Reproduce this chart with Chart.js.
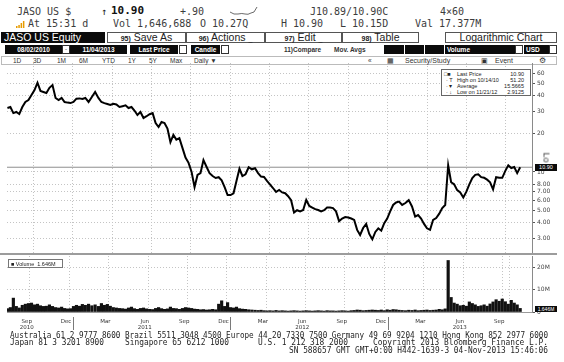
<!DOCTYPE html>
<html lang="en">
<head>
<meta charset="UTF-8">
<title>JASO US Equity</title>
<script src="https://cdn.jsdelivr.net/npm/chart.js"></script>
<style>
  html, body { margin: 0; padding: 0; background: #fff; }
  body { position: relative; width: 564px; height: 362px; overflow: hidden; font-family: "Liberation Sans", Arial, sans-serif; color: #222; }
  .a { position: absolute; white-space: pre; }
  .top { font-family: "DejaVu Sans Mono", monospace; font-size: 10px; line-height: 12px; color: #3c3c3c; }
  .btn { position: absolute; top: 32px; height: 11px; box-sizing: border-box; border: 1px solid #555; font-size: 10.5px; line-height: 9px; text-align: center; color: #222; white-space: pre; }
  .btn b { font-size: 7px; }
  .blk { position: absolute; top: 45px; height: 9px; background: #0b0b0b; color: #fff; font-size: 6.5px; line-height: 9px; text-align: center; font-weight: bold; white-space: pre; }
  .sq { position: absolute; top: 45px; height: 9px; box-sizing: border-box; border: 1px solid #333; background: #fff; }
  .r5 { position: absolute; top: 57px; font-size: 6.5px; line-height: 8px; color: #333; white-space: pre; }
  canvas { position: absolute; left: 0; }
  .foot { position: absolute; font-family: "DejaVu Sans Mono", monospace; font-size: 8px; line-height: 8px; color: #1e1e1e; white-space: pre; transform-origin: 0 0; }
  .leg { position: absolute; font-size: 5.5px; line-height: 6px; color: #222; white-space: pre; }
</style>
</head>
<body>
  <!-- row 1 -->
  <div class="a top" style="left:17px;top:6px">JASO US $</div>
  <div class="a top" style="left:101px;top:6px;color:#222">&#8593;</div>
  <div class="a top" style="left:111px;top:5px;font-size:11px;font-weight:bold;color:#111">10.90</div>
  <div class="a top" style="left:180px;top:6px">+.90</div>
  <svg class="a" style="left:229px;top:6px" width="30" height="12">
    <path d="M1 6 Q5 9 9 8 T16 8 T22 7 L25 6 L28 1" fill="none" stroke="#444" stroke-width="0.8"/>
  </svg>
  <div class="a top" style="left:310px;top:6px">J10.89/10.90C</div>
  <div class="a top" style="left:440px;top:6px">4&#215;60</div>

  <!-- row 2 -->
  <svg class="a" style="left:16px;top:21px" width="10" height="7">
    <rect x="0" y="5" width="1.5" height="2" fill="#e79b00"/>
    <rect x="2.3" y="4" width="1.5" height="3" fill="#e79b00"/>
    <rect x="4.6" y="2" width="1.5" height="5" fill="#e79b00"/>
    <rect x="6.9" y="0" width="1.5" height="7" fill="#e79b00"/>
  </svg>
  <div class="a top" style="left:28px;top:17.5px">At 15:31 d</div>
  <div class="a top" style="left:113px;top:17.5px">Vol 1,646,688</div>
  <div class="a top" style="left:200px;top:17.5px">O 10.27Q</div>
  <div class="a top" style="left:281px;top:17.5px">H 10.90</div>
  <div class="a top" style="left:340px;top:17.5px">L 10.15D</div>
  <div class="a top" style="left:415px;top:17.5px">Val 17.377M</div>

  <!-- row 3 -->
  <div class="a" style="left:1px;top:32px;width:104px;height:11px;background:#0b0b0b;color:#fff;font-size:10.5px;line-height:11px;padding-left:3px;box-sizing:border-box">JASO US Equity</div>
  <div class="btn" style="left:107px;width:79px"><b>95)</b> Save As</div>
  <div class="btn" style="left:186px;width:79px"><b>96)</b> Actions <span style="font-size:7px">_</span></div>
  <div class="btn" style="left:265px;width:77px"><b>97)</b> Edit <span style="font-size:7px">_</span></div>
  <div class="btn" style="left:342px;width:77px"><b>98)</b> Table</div>
  <div class="btn" style="left:445px;width:112px">Logarithmic Chart</div>

  <!-- row 4 -->
  <div class="blk" style="left:5px;width:57px">08/02/2010</div>
  <div class="sq" style="left:62px;width:8px;font-size:6px;line-height:7px;text-align:center">-</div>
  <div class="blk" style="left:70px;width:57px">11/04/2013</div>
  <div class="blk" style="left:130px;width:48px">Last Price</div>
  <div class="sq" style="left:179px;width:8px"></div>
  <div class="blk" style="left:191px;width:29px">Candle</div>
  <div class="sq" style="left:221px;width:8px"></div>
  <div class="a" style="left:284px;top:45px;font-size:6.5px;line-height:9px;font-weight:bold;color:#333">11)Compare</div>
  <div class="a" style="left:334px;top:45px;font-size:6.5px;line-height:9px;font-weight:bold;color:#333">Mov. Avgs</div>
  <div class="blk" style="left:384px;width:20px"></div>
  <div class="blk" style="left:405px;width:19px"></div>
  <div class="blk" style="left:425px;width:19px"></div>
  <div class="blk" style="left:445px;width:70px;text-align:left;padding-left:2px;box-sizing:border-box">Volume</div>
  <div class="sq" style="left:515px;width:8px"></div>
  <div class="blk" style="left:524px;width:25px;text-align:left;padding-left:2px;box-sizing:border-box">USD</div>
  <div class="sq" style="left:549px;width:8px"></div>

  <!-- row 5 -->
  <div class="a" style="left:1px;top:56px;width:556px;height:9px;border:1px solid #bbb;box-sizing:border-box"></div>
  <div class="r5" style="left:13px">1D</div>
  <div class="r5" style="left:33px">3D</div>
  <div class="r5" style="left:57px">1M</div>
  <div class="r5" style="left:79px">6M</div>
  <div class="r5" style="left:102px">YTD</div>
  <div class="r5" style="left:128px">1Y</div>
  <div class="r5" style="left:149px">5Y</div>
  <div class="r5" style="left:170px">Max</div>
  <div class="r5" style="left:194px">Daily &#9660;</div>
  <div class="r5" style="left:368px">&#171;</div>
  <div class="r5" style="left:387px">&#9638;</div>
  <div class="r5" style="left:405px;font-size:7px">Security/Study</div>
  <div class="r5" style="left:481px">&#9635;</div>
  <div class="r5" style="left:495px;font-size:7px">Event</div>
  <div class="r5" style="left:539px;font-size:7.5px">&#9881;</div>

  <canvas id="priceChart" width="564" height="191" style="top:63px"></canvas>
  <canvas id="volumeChart" width="564" height="77" style="top:256px"></canvas>

  <!-- panel separator -->
  <div class="a" style="left:0;top:253px;width:557px;height:2px;background:#9c9c9c"></div>

  <!-- price legend -->
  <div class="a" style="left:441px;top:69px;width:90px;height:27px;border:1px solid #666;background:#fff;box-sizing:border-box"></div>
  <div class="leg" style="left:444px;top:70.5px">&#9633;&#9632;</div>
  <div class="leg" style="left:457px;top:70.5px">Last Price</div>
  <div class="leg" style="left:494px;top:70.5px;width:30px;text-align:right">10.90</div>
  <div class="leg" style="left:446px;top:76.5px">&#183; T</div>
  <div class="leg" style="left:457px;top:76.5px">High on 10/14/10</div>
  <div class="leg" style="left:494px;top:76.5px;width:30px;text-align:right">51.20</div>
  <div class="leg" style="left:446px;top:82.5px">&#183; &#9662;</div>
  <div class="leg" style="left:457px;top:82.5px">Average</div>
  <div class="leg" style="left:494px;top:82.5px;width:30px;text-align:right">15.5665</div>
  <div class="leg" style="left:446px;top:88.5px">&#183; &#8595;</div>
  <div class="leg" style="left:457px;top:88.5px">Low on 11/21/12</div>
  <div class="leg" style="left:494px;top:88.5px;width:30px;text-align:right">2.9125</div>

  <!-- right side markers -->
  <div class="a" style="left:541px;top:153px;font-size:9px;line-height:9px;color:#333;transform:rotate(90deg)">Lo</div>
  <div class="a" style="left:535px;top:164px;width:22px;height:6.5px;background:#0b0b0b;color:#fff;font-size:5.5px;line-height:6.5px;text-align:center">10.90</div>

  <!-- volume legend -->
  <div class="a" style="left:8px;top:259px;width:55px;height:9px;border:1px solid #777;background:#fff;box-sizing:border-box"></div>
  <div class="leg" style="left:11px;top:260.5px">&#9632; Volume  1.646M</div>
  <div class="a" style="left:535px;top:306px;width:22px;height:6px;background:#0b0b0b;color:#fff;font-size:5px;line-height:6px;text-align:center">1.646M</div>

  <!-- footer (each piece squeezed to the width it has in the screenshot) -->
  <div class="foot" data-w="538" style="left:10px;top:331.5px">Australia 61 2 9777 8600 Brazil 5511 3048 4500 Europe 44 20 7330 7500 Germany 49 69 9204 1210 Hong Kong 852 2977 6000</div>
  <div class="foot" data-w="94" style="left:10px;top:339px">Japan 81 3 3201 8900</div>
  <div class="foot" data-w="104" style="left:125px;top:339px">Singapore 65 6212 1000</div>
  <div class="foot" data-w="90" style="left:258px;top:339px">U.S. 1 212 318 2000</div>
  <div class="foot" data-w="175" style="left:373px;top:339px">Copyright 2013 Bloomberg Finance L.P.</div>
  <div class="foot" data-w="259" style="left:289px;top:346.5px">SN 588657 GMT GMT+0:00 H442-1639-3 04-Nov-2013 15:46:06</div>

<script>
  document.querySelectorAll('.foot').forEach(el => {
    const w = el.getBoundingClientRect().width;
    el.style.transform = 'scaleX(' + (Number(el.dataset.w) / w) + ')';
  });

  // weekly closes from 02 Aug 2010 to 04 Nov 2013
  const startDate = '2010-08-02';
  const closes = [
    31.9, 32.5, 29.1, 29.7, 28.6, 32.5, 35.6, 36.9, 40.4, 44.2,
    50.5, 43.5, 42.7, 41.9, 46.0, 48.4, 38.3, 36.9, 38.3, 35.6,
    35.2, 34.9, 35.6, 37.8, 38.0, 37.6, 38.3, 35.6, 39.0, 42.7,
    38.3, 35.6, 34.9, 34.3, 33.7, 34.5, 34.0, 32.5, 33.0, 33.5,
    31.9, 32.5, 30.5, 28.1, 29.7, 26.6, 27.5, 28.5, 29.1, 24.3,
    22.6, 24.8, 24.3, 22.0, 17.2, 19.6, 18.0, 18.5, 15.5, 13.0,
    11.8, 10.0, 7.6, 9.47, 9.8, 12.4, 11.0, 9.8, 9.3, 8.97,
    9.1, 8.6, 7.6, 6.59, 6.59, 6.8, 8.5, 10.6, 9.3, 9.6,
    10.9, 10.5, 10.7, 9.8, 9.2, 9.14, 8.5, 8.0, 7.48, 6.96,
    7.22, 6.9, 6.8, 6.45, 6.0, 4.8, 5.0, 4.9, 5.02, 6.02,
    5.4, 5.25, 5.1, 5.02, 4.9, 5.0, 5.25, 5.25, 5.2, 4.9,
    4.1, 4.3, 4.42, 4.38, 4.3, 4.19, 3.5, 3.19, 3.62, 3.9,
    3.25, 2.95, 3.37, 3.6, 3.45, 3.95, 4.3, 4.9, 5.5, 5.75,
    5.85, 5.5, 5.7, 6.0, 5.35, 4.45, 4.58, 4.3, 3.9, 3.6,
    3.5, 4.2, 4.34, 4.7, 5.2, 5.5, 11.3, 8.3, 8.0, 7.2,
    6.9, 6.3, 7.0, 8.0, 8.97, 9.5, 9.6, 9.1, 9.0, 8.7,
    8.3, 7.3, 9.1, 9.0, 9.0, 10.2, 11.3, 10.75, 10.95, 9.8, 10.9
  ];
  // weekly volume, millions of shares
  const volumes = [
    1.5, 2.0, 6.2, 2.5, 1.8,
    3.0, 3.5, 3.8, 4.0, 3.2, 3.5, 2.8, 2.5,
    2.6, 3.2, 2.5, 2.0, 1.8, 2.2, 1.6, 1.4, 1.5,
    2.5, 3.0, 2.6, 3.4, 3.0, 3.5, 2.8, 3.2, 2.5,
    3.8, 3.0, 3.4, 2.6, 2.0, 1.8, 1.6, 1.5, 1.3,
    1.8, 2.2, 1.5, 1.2, 1.6, 1.8, 1.4, 1.2, 1.1,
    1.6, 2.0, 1.5, 1.2, 1.4, 2.2, 1.6, 1.5, 1.2, 1.6, 2.0, 1.8,
    1.6, 1.3, 1.2, 1.0, 1.1, 0.9, 1.0, 1.2, 1.0, 3.5, 5.0, 2.5, 4.2,
    2.0, 1.8, 2.2, 1.5, 1.3, 1.2, 1.0, 0.9, 0.8,
    0.7, 0.8, 0.6, 0.5, 0.6, 0.5, 0.7, 0.5, 0.6, 0.5, 0.4, 0.5, 0.6, 0.5, 0.4, 0.5, 0.6,
    0.5, 0.4, 0.5, 0.6, 0.5, 0.4, 0.6, 0.5, 0.5, 0.4, 0.5, 0.6, 0.5, 0.4, 0.6, 0.7, 0.9, 0.8, 0.6, 0.7, 0.8,
    0.9, 0.8, 0.7, 0.9, 0.6, 1.0, 0.8, 1.1, 1.0, 0.8, 0.7, 0.6, 0.8, 0.7, 0.9, 0.6, 0.7, 0.8, 0.9, 0.7, 0.8, 0.9, 1.2, 1.0, 1.4,
    23.0,
    6.5, 4.0, 3.5, 2.8, 3.0, 2.6, 4.5, 3.8, 3.2, 2.5, 2.8, 3.2, 2.6, 3.6, 4.5, 5.5, 4.8, 5.8, 4.6, 3.5, 5.2, 4.0, 3.2, 1.6
  ];
  const lastPrice = 10.90;
  const priceTicks = [3, 4, 5, 6, 7, 8, 10, 20, 30, 40, 50, 60];
  const volumeTicks = [0, 10, 20];
  const gridMonths = ['2010-10', '2011-01', '2011-04', '2011-07', '2011-10', '2012-01', '2012-04',
                      '2012-07', '2012-10', '2013-01', '2013-04', '2013-07', '2013-10'];
  const labelMonths = ['2010-09', '2010-12', '2011-03', '2011-06', '2011-09', '2011-12', '2012-03',
                       '2012-06', '2012-09', '2012-12', '2013-03', '2013-06', '2013-09'];
  const monthNames = ['Sep', 'Dec', 'Mar', 'Jun', 'Sep', 'Dec', 'Mar', 'Jun', 'Sep', 'Dec', 'Mar', 'Jun', 'Sep'];
  const yearNames = { '2010-09': '2010', '2011-06': '2011', '2012-06': '2012', '2013-06': '2013' };
  const yearStarts = ['2011-01', '2012-01', '2013-01'];

  // x axis unit: months since 1 Aug 2010
  function monthPos(y, m, d) {
    const days = new Date(y, m, 0).getDate();
    return (y - 2010) * 12 + (m - 8) + (d - 1) / days;
  }
  function keyPos(k) {
    const [y, m] = k.split('-').map(Number);
    return monthPos(y, m, 1);
  }
  const [sy, sm, sd] = startDate.split('-').map(Number);
  function weekPos(i) {
    const d = new Date(sy, sm - 1, sd + 7 * i);
    return monthPos(d.getFullYear(), d.getMonth() + 1, d.getDate());
  }

  const gridCol = '#c4c4c4';
  const axisFont = { family: 'DejaVu Sans', size: 6 };
  Chart.defaults.font.family = 'DejaVu Sans';

  const gridXAxis = {
    type: 'linear', min: 0, max: 40,
    afterBuildTicks: a => { a.ticks = gridMonths.map(k => ({ value: keyPos(k) })); },
    ticks: { display: false },
    grid: { color: gridCol, drawTicks: false },
    border: { display: false, dash: [1, 2] },
    afterFit: a => { a.height = 0; a.paddingLeft = 0; a.paddingRight = 0; }
  };

  new Chart(document.getElementById('priceChart'), {
    type: 'line',
    data: {
      datasets: [
        {
          data: closes.map((c, i) => ({ x: weekPos(i), y: c })),
          borderColor: '#000', borderWidth: 2, pointRadius: 0, tension: 0, order: 0
        },
        {
          data: [{ x: 0, y: lastPrice }, { x: 40, y: lastPrice }],
          borderColor: '#8e8e8e', borderWidth: 1, pointRadius: 0, order: 1
        }
      ]
    },
    options: {
      responsive: false, animation: false,
      layout: { padding: { left: 7, right: 0, top: 0, bottom: 0 } },
      plugins: { legend: { display: false }, tooltip: { enabled: false } },
      scales: {
        x: gridXAxis,
        y: {
          type: 'logarithmic', position: 'right', min: 2.26, max: 72.2,
          afterBuildTicks: a => { a.ticks = priceTicks.map(v => ({ value: v })); },
          ticks: { callback: v => v >= 10 ? String(v) : v.toFixed(2), font: axisFont, color: '#444', padding: 2, autoSkip: false },
          grid: { color: gridCol, tickLength: 3, tickColor: '#555' },
          border: { color: '#8a8a8a', dash: [1, 2] },
          afterFit: a => { a.width = 32; a.paddingTop = 0; a.paddingBottom = 0; }
        }
      }
    }
  });

  // little year dividers under the month labels
  const yearSeparators = {
    id: 'yearSeparators',
    afterDraw(chart) {
      const { ctx, chartArea, scales } = chart;
      ctx.save();
      ctx.strokeStyle = '#7a7a7a';
      ctx.lineWidth = 1;
      yearStarts.forEach(k => {
        const x = Math.round(scales.x.getPixelForValue(keyPos(k))) + 0.5;
        ctx.beginPath();
        ctx.moveTo(x, chartArea.bottom + 5);
        ctx.lineTo(x, chartArea.bottom + 18);
        ctx.stroke();
      });
      ctx.restore();
    }
  };

  const volXTicks = gridMonths.map(k => ({ value: keyPos(k), lbl: '' }))
    .concat(labelMonths.map((k, i) => ({
      value: keyPos(k) + 0.5,
      lbl: yearNames[k] ? [monthNames[i], yearNames[k]] : monthNames[i]
    })))
    .sort((p, q) => p.value - q.value);

  new Chart(document.getElementById('volumeChart'), {
    type: 'bar',
    data: {
      datasets: [{
        data: volumes.map((v, i) => ({ x: weekPos(i), y: v })),
        backgroundColor: '#111', barThickness: 2.5
      }]
    },
    options: {
      responsive: false, animation: false,
      layout: { padding: { left: 7, right: 0, top: 0, bottom: 0 } },
      plugins: { legend: { display: false }, tooltip: { enabled: false } },
      scales: {
        x: {
          type: 'linear', min: 0, max: 40, offset: false,
          afterBuildTicks: a => { a.ticks = volXTicks.map(t => ({ ...t })); },
          ticks: {
            callback: (v, i, t) => t[i].lbl, autoSkip: false, maxRotation: 0, minRotation: 0,
            font: { family: 'DejaVu Sans', size: 5.5, lineHeight: 1 }, color: '#333', padding: 7
          },
          grid: { color: c => (c.tick && c.tick.lbl) ? 'rgba(0,0,0,0)' : gridCol, drawTicks: false },
          border: { display: true, color: '#9a9a9a', dash: [1, 2] },
          afterFit: a => { a.height = 21; a.paddingLeft = 0; a.paddingRight = 0; }
        },
        y: {
          position: 'right', min: 0, max: 25,
          afterBuildTicks: a => { a.ticks = volumeTicks.map(v => ({ value: v })); },
          ticks: { callback: v => v === 0 ? '0' : v + 'M', font: axisFont, color: '#444', padding: 2 },
          grid: { color: gridCol, tickLength: 3, tickColor: '#555' },
          border: { color: '#8a8a8a', dash: [1, 2] },
          afterFit: a => { a.width = 32; a.paddingTop = 0; a.paddingBottom = 0; }
        }
      }
    },
    plugins: [yearSeparators]
  });
</script>
</body>
</html>
